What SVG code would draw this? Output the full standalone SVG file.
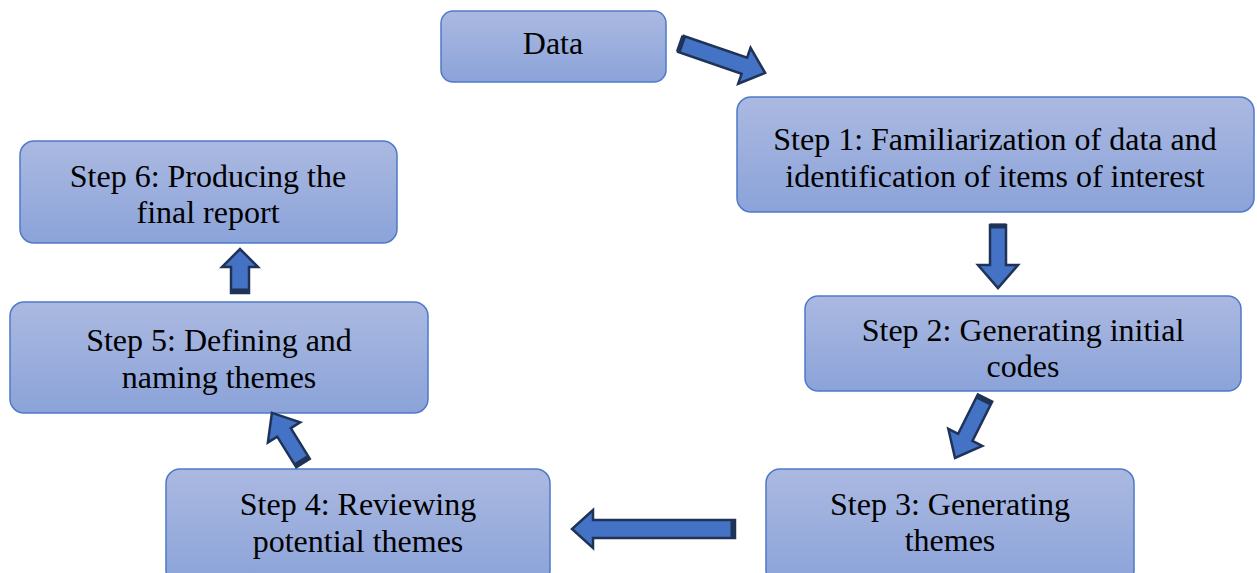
<svg xmlns="http://www.w3.org/2000/svg" width="1257" height="573" viewBox="0 0 1257 573">
<defs>
<linearGradient id="g" x1="0" y1="0" x2="0" y2="1">
<stop offset="0" stop-color="#abb9e1"/>
<stop offset="1" stop-color="#8ba3d9"/>
</linearGradient>
<style>
.box{fill:url(#g);stroke:#4f7ac7;stroke-width:1.5}
.t{font-family:"Liberation Serif","Times New Roman",serif;font-size:32px;fill:#000;text-anchor:middle}
.ar{fill:#4472c4;stroke:#1f3359;stroke-width:2.5;stroke-linejoin:miter}
.cap{stroke:#1f3359;stroke-width:5}
</style>
</defs>
<rect width="1257" height="573" fill="#fff"/>
<g id="data"><rect class="box" x="441" y="11" width="225" height="71" rx="12"/><text class="t" x="553" y="54">Data</text></g>
<g id="step1"><rect class="box" x="737" y="97" width="517" height="115" rx="14"/><text class="t" x="995" y="150">Step 1: Familiarization of data and</text><text class="t" x="995" y="187">identification of items of interest</text></g>
<g id="step2"><rect class="box" x="805" y="296" width="436" height="95" rx="13"/><text class="t" x="1023" y="341">Step 2: Generating initial</text><text class="t" x="1023" y="377">codes</text></g>
<g id="step3"><rect class="box" x="766" y="469" width="368" height="115" rx="14"/><text class="t" x="950" y="515">Step 3: Generating</text><text class="t" x="950" y="551">themes</text></g>
<g id="step4"><rect class="box" x="166" y="469" width="384" height="115" rx="14"/><text class="t" x="358" y="515">Step 4: Reviewing</text><text class="t" x="358" y="552">potential themes</text></g>
<g id="step5"><rect class="box" x="10" y="302" width="418" height="111" rx="14"/><text class="t" x="219" y="351">Step 5: Defining and</text><text class="t" x="219" y="388">naming themes</text></g>
<g id="step6"><rect class="box" x="20" y="141" width="377" height="102" rx="14"/><text class="t" x="208" y="187">Step 6: Producing the</text><text class="t" x="208" y="223">final report</text></g>
<g id="connectors">
<g transform="translate(681,44) rotate(19)"><polygon class="ar" points="0,-8.5 67,-8.5 67,-19 89,0 67,19 67,8.5 0,8.5"/><line class="cap" x1="0" y1="-8.5" x2="0" y2="8.5"/></g>
<g transform="translate(998,225) rotate(90)"><polygon class="ar" points="0,-8 40,-8 40,-20 63,0 40,20 40,8 0,8"/><line class="cap" x1="1" y1="-8" x2="1" y2="8"/></g>
<g transform="translate(985,398) rotate(116.6)"><polygon class="ar" points="0,-8 44,-8 44,-19 67,0 44,19 44,8 0,8"/><line class="cap" x1="2" y1="-8" x2="2" y2="8"/></g>
<g transform="translate(735,529) rotate(180)"><polygon class="ar" points="0,-9 142,-9 142,-19 163,0 142,19 142,9 0,9"/><line class="cap" x1="2" y1="-9" x2="2" y2="9"/></g>
<g transform="translate(303,463) rotate(-121.8)"><polygon class="ar" points="0,-8 36,-8 36,-19 59,0 36,19 36,8 0,8"/><line class="cap" x1="2" y1="-8" x2="2" y2="8"/></g>
<g transform="translate(240,293) rotate(-90)"><polygon class="ar" points="0,-9 26,-9 26,-18 44,0 26,18 26,9 0,9"/><line class="cap" x1="2" y1="-9" x2="2" y2="9"/></g>
</g>
</svg>
